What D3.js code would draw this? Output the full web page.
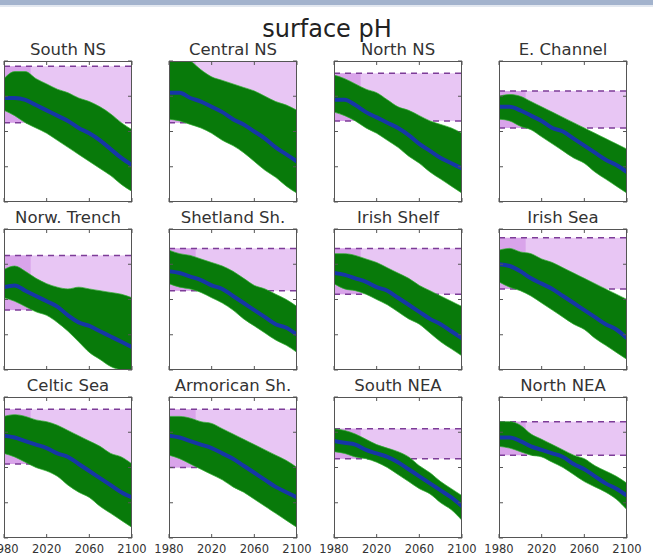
<!DOCTYPE html>
<html>
<head>
<meta charset="utf-8">
<script src="https://cdn.jsdelivr.net/npm/d3@7"></script>
<style>
  body { margin: 0; background: #fff; }
  svg { display: block; font-family: "DejaVu Sans", sans-serif; }
</style>
</head>
<body>
<div id="chart"></div>
<script>
// --- data (surface pH, 1980-2100) ---
const years = [1980, 1990, 2000, 2010, 2020, 2030, 2040, 2050, 2060, 2070, 2080, 2090, 2100];

const regions = ["South NS", "Central NS", "North NS", "E. Channel",
                 "Norw. Trench", "Shetland Sh.", "Irish Shelf", "Irish Sea",
                 "Celtic Sea", "Armorican Sh.", "South NEA", "North NEA"];

// upper edge of the green envelope
const upper = [
  [8.30, 8.34, 8.34, 8.30, 8.27, 8.24, 8.22, 8.19, 8.17, 8.14, 8.10, 8.05, 8.01],
  [8.42, 8.42, 8.40, 8.35, 8.31, 8.29, 8.27, 8.25, 8.23, 8.20, 8.17, 8.15, 8.12],
  [8.32, 8.30, 8.27, 8.24, 8.22, 8.18, 8.14, 8.12, 8.09, 8.06, 8.04, 8.02, 7.99],
  [8.20, 8.21, 8.20, 8.17, 8.14, 8.11, 8.08, 8.05, 8.02, 7.99, 7.96, 7.93, 7.90],
  [8.17, 8.19, 8.16, 8.12, 8.09, 8.07, 8.06, 8.07, 8.06, 8.05, 8.04, 8.03, 8.01],
  [8.28, 8.26, 8.25, 8.23, 8.21, 8.19, 8.16, 8.12, 8.08, 8.06, 8.03, 8.00, 7.96],
  [8.26, 8.26, 8.25, 8.23, 8.21, 8.18, 8.15, 8.12, 8.08, 8.05, 8.02, 7.99, 7.96],
  [8.28, 8.29, 8.27, 8.26, 8.23, 8.21, 8.18, 8.15, 8.12, 8.09, 8.06, 8.03, 8.00],
  [8.29, 8.30, 8.29, 8.27, 8.26, 8.24, 8.21, 8.18, 8.15, 8.12, 8.08, 8.06, 8.02],
  [8.29, 8.29, 8.28, 8.26, 8.25, 8.22, 8.19, 8.16, 8.13, 8.10, 8.07, 8.04, 8.00],
  [8.22, 8.21, 8.19, 8.16, 8.13, 8.11, 8.09, 8.06, 8.01, 7.97, 7.92, 7.88, 7.84],
  [8.26, 8.26, 8.24, 8.19, 8.16, 8.13, 8.10, 8.07, 8.05, 8.01, 7.98, 7.95, 7.91]
];

// lower edge of the green envelope
const lower = [
  [8.12, 8.09, 8.05, 8.02, 7.99, 7.95, 7.91, 7.87, 7.83, 7.79, 7.75, 7.70, 7.66],
  [8.07, 8.06, 8.04, 8.02, 7.99, 7.95, 7.92, 7.88, 7.83, 7.78, 7.74, 7.69, 7.65],
  [8.11, 8.09, 8.06, 8.02, 7.99, 7.95, 7.91, 7.86, 7.82, 7.77, 7.73, 7.69, 7.65],
  [8.07, 8.06, 8.03, 8.01, 7.97, 7.93, 7.89, 7.85, 7.82, 7.77, 7.73, 7.69, 7.65],
  [8.01, 7.99, 7.96, 7.93, 7.91, 7.87, 7.82, 7.76, 7.70, 7.66, 7.62, 7.60, 7.59],
  [8.09, 8.07, 8.06, 8.04, 8.01, 7.98, 7.94, 7.89, 7.85, 7.81, 7.77, 7.74, 7.70],
  [8.09, 8.06, 8.05, 8.03, 8.00, 7.97, 7.93, 7.89, 7.86, 7.81, 7.76, 7.72, 7.68],
  [8.10, 8.07, 8.05, 8.02, 7.98, 7.94, 7.90, 7.86, 7.83, 7.78, 7.74, 7.70, 7.66],
  [8.08, 8.06, 8.03, 8.00, 7.98, 7.95, 7.90, 7.86, 7.83, 7.78, 7.74, 7.70, 7.66],
  [8.07, 8.05, 8.02, 7.99, 7.96, 7.93, 7.89, 7.86, 7.82, 7.78, 7.74, 7.70, 7.66],
  [8.09, 8.08, 8.06, 8.05, 8.03, 8.00, 7.96, 7.92, 7.88, 7.85, 7.80, 7.76, 7.70],
  [8.12, 8.11, 8.09, 8.07, 8.06, 8.03, 8.00, 7.96, 7.92, 7.89, 7.86, 7.82, 7.76]
];

// ensemble mean (blue line)
const mean = [
  [8.19, 8.19, 8.18, 8.15, 8.12, 8.09, 8.06, 8.02, 7.99, 7.95, 7.90, 7.85, 7.81],
  [8.22, 8.22, 8.19, 8.17, 8.14, 8.11, 8.07, 8.04, 8.00, 7.96, 7.91, 7.87, 7.83],
  [8.18, 8.18, 8.15, 8.11, 8.08, 8.05, 8.02, 7.98, 7.93, 7.89, 7.85, 7.82, 7.79],
  [8.14, 8.14, 8.12, 8.09, 8.06, 8.02, 8.00, 7.96, 7.92, 7.88, 7.84, 7.81, 7.77],
  [8.07, 8.08, 8.05, 8.02, 7.99, 7.96, 7.91, 7.87, 7.85, 7.82, 7.79, 7.76, 7.73],
  [8.16, 8.15, 8.13, 8.11, 8.08, 8.06, 8.02, 7.98, 7.94, 7.90, 7.86, 7.84, 7.80],
  [8.15, 8.14, 8.12, 8.10, 8.07, 8.05, 8.01, 7.97, 7.93, 7.89, 7.86, 7.82, 7.78],
  [8.20, 8.19, 8.16, 8.12, 8.09, 8.06, 8.02, 7.98, 7.94, 7.90, 7.86, 7.83, 7.78],
  [8.18, 8.17, 8.15, 8.13, 8.11, 8.08, 8.06, 8.02, 7.98, 7.94, 7.90, 7.86, 7.83],
  [8.18, 8.17, 8.15, 8.13, 8.11, 8.08, 8.05, 8.01, 7.97, 7.93, 7.89, 7.86, 7.83],
  [8.15, 8.14, 8.13, 8.10, 8.08, 8.06, 8.03, 7.99, 7.95, 7.91, 7.87, 7.83, 7.78],
  [8.17, 8.17, 8.15, 8.12, 8.10, 8.08, 8.06, 8.02, 7.99, 7.95, 7.91, 7.88, 7.84]
];

// reference range (dashed lines / lilac band)
const bandHigh = [8.37, 8.41, 8.33, 8.23, 8.25, 8.29, 8.29, 8.35, 8.33, 8.33, 8.22, 8.26];
const bandLow  = [8.05, 8.05, 8.06, 8.02, 7.94, 8.05, 8.03, 8.06, 8.02, 8.00, 8.05, 8.07];
const refPeriod = [1980, 2005];

const xTicks = [1980, 2020, 2060, 2100];
const yTicks = [7.6, 7.8, 8.0, 8.2, 8.4];

// --- layout ---
const W = 653, H = 560;
const pw = 128, ph = 141;
const colLeft = c => 4 + c * 165;
const rowTop = r => 61 + r * 168;

const svg = d3.select("#chart").append("svg")
    .attr("width", W)
    .attr("height", H);

// slide border strip at the very top
svg.append("rect").attr("x", 0).attr("y", 0).attr("width", W).attr("height", 5).attr("fill", "#a3b3cd");
svg.append("rect").attr("x", 0).attr("y", 5).attr("width", W).attr("height", 2).attr("fill", "#e3e8f0");

svg.append("text")
    .attr("x", 327)
    .attr("y", 37)
    .attr("text-anchor", "middle")
    .style("font-size", "24px")
    .attr("fill", "#222")
    .text("surface pH");

const x = d3.scaleLinear().domain([1980, 2100]).range([0, pw]);
const y = d3.scaleLinear().domain([7.6, 8.4]).range([ph, 0]);

const area = d3.area()
    .x(d => x(d.year))
    .y0(d => y(d.lo))
    .y1(d => y(d.hi))
    .curve(d3.curveMonotoneX);

const line = d3.line()
    .x(d => x(d.year))
    .y(d => y(d.v))
    .curve(d3.curveMonotoneX);

regions.forEach((name, i) => {
    const r = Math.floor(i / 4), c = i % 4;
    const g = svg.append("g")
        .attr("transform", `translate(${colLeft(c)},${rowTop(r)})`);

    g.append("clipPath").attr("id", "clip" + i)
        .append("rect").attr("width", pw).attr("height", ph);

    const plot = g.append("g").attr("clip-path", `url(#clip${i})`);

    // lilac reference band
    plot.append("rect")
        .attr("x", x(1980))
        .attr("width", x(2100) - x(1980))
        .attr("y", y(bandHigh[i]))
        .attr("height", y(bandLow[i]) - y(bandHigh[i]))
        .attr("fill", "#e8c6f4");
    plot.append("rect")
        .attr("x", x(refPeriod[0]))
        .attr("width", x(refPeriod[1]) - x(refPeriod[0]))
        .attr("y", y(bandHigh[i]))
        .attr("height", y(bandLow[i]) - y(bandHigh[i]))
        .attr("fill", "#d9a4ea");

    [bandHigh[i], bandLow[i]].forEach(v => {
        plot.append("line")
            .attr("x1", 0).attr("x2", pw)
            .attr("y1", y(v)).attr("y2", y(v))
            .attr("stroke", "#7d3c98")
            .attr("stroke-width", 1.5)
            .attr("stroke-dasharray", "6,5");
    });

    const env = years.map((yr, k) => ({ year: yr, lo: lower[i][k], hi: upper[i][k] }));
    plot.append("path")
        .datum(env)
        .attr("d", area)
        .attr("fill", "#087a0a")
        .attr("stroke", "#2fae2f")
        .attr("stroke-width", 0.7);

    plot.append("path")
        .datum(years.map((yr, k) => ({ year: yr, v: mean[i][k] })))
        .attr("d", line)
        .attr("fill", "none")
        .attr("stroke", "#1636a6")
        .attr("stroke-width", 4);

    // frame
    g.append("rect")
        .attr("x", 0.5).attr("y", 0.5)
        .attr("width", pw - 1).attr("height", ph - 1)
        .attr("fill", "none")
        .attr("stroke", "#555")
        .attr("stroke-width", 1);

    // inward ticks on all four sides
    xTicks.forEach(t => {
        g.append("line").attr("x1", x(t)).attr("x2", x(t)).attr("y1", ph).attr("y2", ph - 4).attr("stroke", "#555");
        g.append("line").attr("x1", x(t)).attr("x2", x(t)).attr("y1", 0).attr("y2", 4).attr("stroke", "#555");
    });
    yTicks.forEach(t => {
        g.append("line").attr("x1", 0).attr("x2", 4).attr("y1", y(t)).attr("y2", y(t)).attr("stroke", "#555");
        g.append("line").attr("x1", pw).attr("x2", pw - 4).attr("y1", y(t)).attr("y2", y(t)).attr("stroke", "#555");
    });

    g.append("text")
        .attr("x", pw / 2)
        .attr("y", -6)
        .attr("text-anchor", "middle")
        .style("font-size", "16.5px")
        .attr("fill", "#333")
        .text(name);

    if (r === 2) {
        g.selectAll(".tl")
            .data(xTicks)
            .enter()
            .append("text")
            .attr("x", d => x(d))
            .attr("y", ph + 15)
            .attr("text-anchor", "middle")
            .style("font-size", "11.5px")
            .attr("fill", "#333")
            .text(d => d);
    }
});
</script>
</body>
</html>
